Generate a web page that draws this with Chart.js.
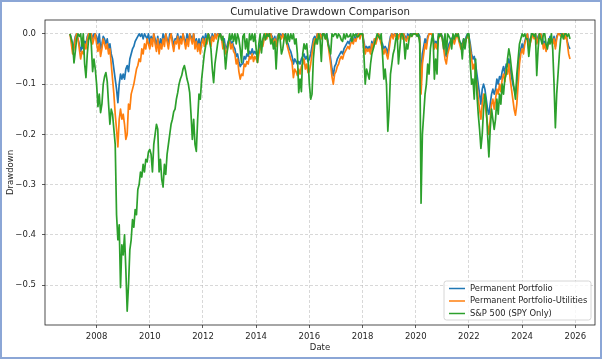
<!DOCTYPE html>
<html><head><meta charset="utf-8">
<script src="https://cdn.jsdelivr.net/npm/chart.js@4.4.1/dist/chart.umd.min.js"></script>
<style>html,body{margin:0;padding:0;background:#fff;}canvas{display:block;}</style>
</head><body>
<canvas id="c" width="602" height="359"></canvas>
<script>
const chartTitle = 'Cumulative Drawdown Comparison';
const xLabel = 'Date';
const yLabel = 'Drawdown';
const seriesNames = ['Permanent Portfolio', 'Permanent Portfolio-Utilities', 'S&P 500 (SPY Only)'];
const xTicks = [2008, 2010, 2012, 2014, 2016, 2018, 2020, 2022, 2024, 2026];
const yTicks = [0, -0.1, -0.2, -0.3, -0.4, -0.5];
// date axis: samples every 0.05 year starting 2007.0
const startYear = 2007.0;
const stepYears = 0.05;

const permanent = [
0,-0.01,-0.03,-0.02,-0.005,0,-0.01,-0.02,-0.035,-0.025,-0.03,-0.015,-0.02,-0.005,0,0,0,-0.01,0,0,
-0.005,-0.02,0,-0.03,-0.02,-0.005,-0.01,-0.02,-0.01,-0.03,-0.02,-0.04,-0.05,-0.07,-0.09,-0.11,-0.137,-0.10,-0.08,-0.09,
-0.08,-0.09,-0.07,-0.063,-0.075,-0.05,-0.04,-0.03,-0.025,-0.015,-0.01,-0.005,0,-0.005,0,-0.01,0,-0.005,-0.01,0,
-0.02,-0.005,-0.015,0,-0.01,-0.025,-0.005,-0.03,-0.01,-0.02,0,-0.015,0,-0.01,-0.02,0,0,-0.01,-0.025,-0.01,
-0.01,0,-0.02,-0.005,-0.01,0,-0.01,-0.02,0,-0.015,0,-0.005,-0.01,0,-0.02,-0.01,-0.025,-0.01,-0.03,-0.01,
-0.005,-0.015,0,-0.01,0,-0.005,-0.015,0,-0.01,0,-0.005,0,0,0,-0.005,-0.02,-0.01,-0.03,-0.025,-0.015,
-0.01,-0.02,-0.015,-0.025,-0.03,-0.045,-0.04,-0.055,-0.065,-0.06,-0.06,-0.045,-0.05,-0.04,-0.045,-0.035,-0.04,-0.03,-0.04,-0.035,
-0.04,-0.045,-0.03,-0.02,-0.015,-0.02,-0.005,0,-0.005,0,0,0,-0.005,-0.015,-0.005,-0.02,-0.005,0,0,-0.005,
0,-0.005,0,-0.015,-0.02,-0.03,-0.035,-0.045,-0.06,-0.05,-0.055,-0.06,-0.055,-0.06,-0.05,-0.045,-0.04,-0.05,-0.045,-0.055,
-0.05,-0.04,-0.025,-0.01,-0.005,-0.01,0,-0.005,0,-0.005,0,0,-0.005,0,-0.015,-0.03,-0.05,-0.07,-0.083,-0.065,
-0.06,-0.05,-0.045,-0.04,-0.035,-0.04,-0.03,-0.025,-0.02,-0.015,-0.02,-0.01,-0.01,-0.015,-0.005,-0.01,0,0,-0.005,0,
0,-0.015,-0.03,-0.025,-0.03,-0.025,-0.035,-0.015,-0.025,-0.01,-0.015,-0.005,0,-0.005,-0.015,-0.02,-0.03,-0.025,-0.03,-0.04,
-0.02,-0.005,0,-0.005,0,0,0,-0.005,0,0,-0.005,0,-0.005,-0.01,0,-0.005,0,0,0,0,
0,0,0,-0.005,-0.10,-0.04,-0.025,-0.01,-0.02,-0.005,0,0,0,-0.005,-0.02,-0.015,-0.02,-0.005,0,0,
-0.005,-0.02,-0.04,-0.045,-0.03,-0.02,-0.015,-0.01,-0.005,-0.015,-0.005,0,-0.005,-0.015,-0.02,-0.02,-0.01,-0.015,-0.005,0,
-0.005,-0.02,-0.04,-0.05,-0.045,-0.06,-0.08,-0.10,-0.12,-0.14,-0.11,-0.10,-0.11,-0.13,-0.15,-0.16,-0.14,-0.12,-0.11,-0.12,
-0.11,-0.09,-0.10,-0.085,-0.09,-0.075,-0.065,-0.08,-0.06,-0.065,-0.05,-0.07,-0.085,-0.10,-0.11,-0.12,-0.10,-0.07,-0.045,-0.03,
-0.02,-0.03,-0.015,-0.005,0,-0.02,-0.01,-0.005,0,-0.005,0,-0.015,-0.005,0,0,-0.005,-0.02,-0.015,-0.025,-0.02,
-0.015,-0.005,-0.01,-0.015,-0.005,-0.025,-0.005,0,0,0,0,0,-0.005,0,-0.015,-0.025,-0.03
];

const permanentUtilities = [
0,-0.02,-0.04,-0.03,-0.01,0,-0.01,-0.03,-0.05,-0.035,-0.04,-0.02,-0.03,-0.01,0,-0.01,0,-0.02,-0.01,0,
-0.02,-0.035,-0.02,-0.045,-0.03,-0.01,-0.02,-0.03,-0.02,-0.04,-0.03,-0.06,-0.09,-0.12,-0.16,-0.19,-0.225,-0.17,-0.15,-0.17,
-0.16,-0.18,-0.21,-0.20,-0.14,-0.15,-0.12,-0.11,-0.10,-0.085,-0.07,-0.063,-0.05,-0.055,-0.03,-0.04,-0.02,-0.03,-0.01,-0.02,
-0.03,-0.01,-0.025,0,-0.02,-0.035,-0.01,-0.04,-0.02,-0.03,-0.01,-0.025,0,-0.015,-0.03,-0.01,0,-0.02,-0.035,-0.015,
-0.02,-0.005,-0.03,-0.01,-0.02,0,-0.015,-0.03,-0.01,-0.025,0,-0.01,-0.02,0,-0.03,-0.015,-0.035,-0.02,-0.04,-0.02,
-0.01,-0.025,-0.01,-0.02,0,-0.01,-0.025,-0.005,-0.015,0,-0.01,0,-0.005,0,-0.01,-0.03,-0.02,-0.04,-0.035,-0.02,
-0.015,-0.03,-0.02,-0.035,-0.04,-0.06,-0.05,-0.075,-0.09,-0.08,-0.083,-0.06,-0.065,-0.055,-0.06,-0.045,-0.05,-0.04,-0.055,-0.045,
-0.05,-0.057,-0.04,-0.03,-0.02,-0.025,-0.01,0,-0.01,0,-0.005,0,-0.01,-0.02,-0.01,-0.025,-0.01,0,-0.005,-0.01,
0,-0.01,-0.005,-0.02,-0.03,-0.04,-0.05,-0.057,-0.087,-0.07,-0.075,-0.083,-0.07,-0.08,-0.065,-0.06,-0.05,-0.07,-0.06,-0.077,
-0.075,-0.06,-0.04,-0.02,-0.01,-0.02,0,-0.01,0,-0.01,0,0,-0.01,-0.005,-0.02,-0.04,-0.06,-0.085,-0.10,-0.08,
-0.075,-0.065,-0.06,-0.05,-0.045,-0.05,-0.04,-0.035,-0.03,-0.025,-0.03,-0.02,-0.015,-0.02,-0.01,-0.015,-0.005,0,-0.01,0,
0,-0.02,-0.04,-0.03,-0.035,-0.03,-0.04,-0.02,-0.03,-0.01,-0.02,-0.01,0,-0.01,-0.02,-0.03,-0.04,-0.03,-0.04,-0.05,
-0.03,-0.01,0,-0.01,0,-0.005,0,-0.01,0,0,-0.01,0,-0.01,-0.015,-0.005,-0.01,0,-0.005,0,0,
0,0,-0.005,-0.01,-0.12,-0.06,-0.04,-0.02,-0.03,-0.01,0,0,0,-0.01,-0.03,-0.02,-0.03,-0.01,-0.005,0,
-0.01,-0.03,-0.05,-0.06,-0.04,-0.03,-0.02,-0.015,-0.01,-0.02,-0.01,0,-0.01,-0.02,-0.03,-0.025,-0.015,-0.02,-0.01,-0.005,
-0.01,-0.03,-0.05,-0.07,-0.06,-0.08,-0.10,-0.13,-0.15,-0.17,-0.14,-0.12,-0.13,-0.16,-0.18,-0.20,-0.17,-0.14,-0.13,-0.15,
-0.13,-0.11,-0.12,-0.10,-0.115,-0.09,-0.08,-0.095,-0.07,-0.08,-0.06,-0.09,-0.11,-0.13,-0.15,-0.162,-0.14,-0.10,-0.06,-0.04,
-0.03,-0.04,-0.02,-0.01,0,-0.03,-0.02,-0.01,0,-0.01,0,-0.02,-0.01,0,0,-0.01,-0.03,-0.02,-0.035,-0.025,
-0.02,-0.01,-0.015,-0.02,-0.01,-0.03,-0.01,0,0,-0.005,0,0,-0.01,0,-0.02,-0.04,-0.05
];

const spy = [
0,-0.01,-0.02,-0.058,-0.035,-0.01,0,-0.005,0,-0.025,0,-0.06,-0.087,-0.04,-0.01,0,-0.02,-0.075,-0.05,-0.07,
-0.10,-0.145,-0.12,-0.157,-0.14,-0.10,-0.085,-0.077,-0.095,-0.14,-0.18,-0.15,-0.16,-0.19,-0.22,-0.36,-0.41,-0.38,-0.505,-0.42,
-0.44,-0.40,-0.47,-0.552,-0.50,-0.43,-0.41,-0.37,-0.385,-0.35,-0.36,-0.31,-0.30,-0.275,-0.285,-0.26,-0.275,-0.25,-0.255,-0.235,
-0.23,-0.24,-0.275,-0.22,-0.20,-0.18,-0.19,-0.275,-0.25,-0.29,-0.305,-0.26,-0.28,-0.24,-0.22,-0.20,-0.18,-0.17,-0.155,-0.15,
-0.13,-0.117,-0.10,-0.09,-0.083,-0.07,-0.063,-0.075,-0.09,-0.10,-0.117,-0.16,-0.21,-0.17,-0.22,-0.234,-0.17,-0.12,-0.13,-0.09,
-0.065,-0.04,-0.024,-0.01,0,-0.015,-0.03,-0.07,-0.097,-0.06,-0.04,-0.02,-0.005,0,-0.012,-0.005,-0.03,-0.07,-0.04,-0.02,
0,-0.012,0,-0.015,0,-0.02,0,-0.01,-0.03,-0.057,-0.005,0,-0.03,-0.01,-0.04,0,-0.012,0,-0.015,0,
-0.03,-0.057,-0.02,0,-0.038,-0.01,0,-0.012,0,-0.005,0,-0.02,-0.01,-0.03,-0.015,-0.07,-0.02,0,-0.01,-0.04,
-0.03,-0.01,0,-0.02,0,-0.015,0,-0.01,0,-0.02,-0.01,-0.04,-0.117,-0.09,-0.115,-0.04,-0.02,-0.03,-0.02,-0.05,
-0.10,-0.13,-0.12,-0.05,-0.02,-0.01,-0.02,0,-0.01,-0.055,0,0,-0.01,0,-0.02,-0.03,-0.04,0,-0.005,0,
0,-0.008,0,-0.004,-0.012,-0.015,0,-0.01,0,-0.006,-0.005,0,-0.015,0,-0.004,0,-0.006,-0.005,0,0,
0,-0.04,-0.10,-0.07,-0.08,-0.09,-0.06,-0.04,-0.03,-0.02,-0.01,0,-0.005,-0.01,0,-0.04,-0.09,-0.07,-0.10,-0.194,
-0.15,-0.08,-0.06,-0.04,-0.03,-0.01,0,-0.06,-0.03,0,0,-0.01,-0.05,-0.02,-0.03,-0.01,0,-0.005,0,0,
0,-0.005,0,-0.02,-0.337,-0.20,-0.16,-0.12,-0.10,-0.06,-0.08,-0.03,-0.01,0,-0.09,-0.05,-0.08,0,-0.005,0,
-0.01,-0.03,0,-0.04,0,-0.005,-0.01,-0.03,0,-0.01,0,-0.005,0,-0.015,-0.02,-0.05,-0.01,-0.03,-0.01,0,
0,-0.06,-0.10,-0.09,-0.13,-0.05,-0.12,-0.16,-0.19,-0.228,-0.20,-0.15,-0.12,-0.14,-0.20,-0.245,-0.19,-0.15,-0.17,-0.19,
-0.17,-0.13,-0.16,-0.12,-0.14,-0.10,-0.12,-0.09,-0.08,-0.05,-0.03,-0.045,-0.07,-0.09,-0.11,-0.13,-0.08,-0.05,-0.02,-0.01,
0,-0.005,0,-0.01,-0.01,-0.045,-0.02,0,0,-0.005,0,-0.083,-0.03,0,-0.01,-0.02,0,0,-0.02,-0.03,
-0.01,-0.02,0,-0.03,-0.10,-0.187,-0.12,-0.08,-0.04,-0.01,0,-0.01,0,0,-0.005,0,-0.01
];

const FONT = "'DejaVu Sans', 'Liberation Sans', sans-serif";
const TEXT = '#262626';
const colors = ['#1f77b4', '#ff7f0e', '#2ca02c'];
const dates = spy.map((_, i) => +(startYear + i * stepYears).toFixed(2));
const toPoints = arr => arr.map((v, i) => ({ x: dates[i], y: v }));

const overlay = {
  id: 'overlay',
  afterDatasetsDraw(chart) {
    const { ctx, chartArea: a } = chart;
    ctx.save();
    ctx.strokeStyle = '#222';
    ctx.lineWidth = 0.8;
    ctx.strokeRect(a.left, a.top, a.right - a.left, a.bottom - a.top);
    ctx.restore();
  },
  afterDraw(chart) {
    const { ctx, chartArea: a } = chart;
    const cx = (a.left + a.right) / 2;
    ctx.save();
    ctx.fillStyle = TEXT;
    ctx.textAlign = 'center';
    ctx.textBaseline = 'middle';
    ctx.font = '10.2px ' + FONT;
    ctx.fillText(chartTitle, cx, 12);
    ctx.font = '8.5px ' + FONT;
    ctx.fillText(xLabel, cx, 348);
    ctx.save();
    ctx.translate(11, (a.top + a.bottom) / 2);
    ctx.rotate(-Math.PI / 2);
    ctx.fillText(yLabel, 0, 0);
    ctx.restore();

    // legend (lower right)
    const lx0 = 444, lx1 = a.right - 4, ly0 = 281, ly1 = a.bottom - 5, r = 2.5;
    ctx.beginPath();
    ctx.moveTo(lx0 + r, ly0);
    ctx.lineTo(lx1 - r, ly0); ctx.quadraticCurveTo(lx1, ly0, lx1, ly0 + r);
    ctx.lineTo(lx1, ly1 - r); ctx.quadraticCurveTo(lx1, ly1, lx1 - r, ly1);
    ctx.lineTo(lx0 + r, ly1); ctx.quadraticCurveTo(lx0, ly1, lx0, ly1 - r);
    ctx.lineTo(lx0, ly0 + r); ctx.quadraticCurveTo(lx0, ly0, lx0 + r, ly0);
    ctx.closePath();
    ctx.fillStyle = 'rgba(255,255,255,0.8)';
    ctx.fill();
    ctx.strokeStyle = '#cccccc';
    ctx.lineWidth = 0.8;
    ctx.stroke();
    const rows = [288.5, 301, 313.5];
    ctx.textAlign = 'left';
    ctx.font = '8.4px ' + FONT;
    seriesNames.forEach((name, i) => {
      ctx.strokeStyle = colors[i];
      ctx.lineWidth = 1.5;
      ctx.beginPath();
      ctx.moveTo(449, rows[i]);
      ctx.lineTo(465, rows[i]);
      ctx.stroke();
      ctx.fillStyle = TEXT;
      ctx.fillText(name, 470, rows[i]);
    });

    // outer frame of the picture
    ctx.strokeStyle = '#8ba6d6';
    ctx.lineWidth = 2;
    ctx.strokeRect(1, 1, chart.width - 2, chart.height - 2);
    ctx.restore();
  }
};

new Chart(document.getElementById('c').getContext('2d'), {
  type: 'line',
  data: {
    datasets: [
      { label: seriesNames[0], data: toPoints(permanent), borderColor: colors[0], order: 3 },
      { label: seriesNames[1], data: toPoints(permanentUtilities), borderColor: colors[1], order: 2 },
      { label: seriesNames[2], data: toPoints(spy), borderColor: colors[2], order: 1 }
    ]
  },
  options: {
    responsive: false,
    animation: false,
    devicePixelRatio: 1,
    elements: { point: { radius: 0 }, line: { borderWidth: 1.7, tension: 0, fill: false, borderJoinStyle: 'round' } },
    layout: { padding: { left: 0, right: 7, top: 20, bottom: 0 } },
    plugins: { legend: { display: false }, title: { display: false }, tooltip: { enabled: false } },
    scales: {
      x: {
        type: 'linear', bounds: 'data', min: 2006.06, max: 2026.74,
        afterBuildTicks: s => { s.ticks = xTicks.map(v => ({ value: v })); },
        afterFit: s => { s.height = 34; },
        ticks: { font: { family: FONT, size: 8.5 }, color: TEXT, padding: 4, maxRotation: 0, autoSkip: false,
                 callback: v => String(v) },
        grid: { color: 'rgba(176,176,176,0.7)', lineWidth: 0.7, tickColor: '#333', tickLength: 3, tickWidth: 0.8 },
        border: { display: false, dash: [3, 2] }
      },
      y: {
        type: 'linear', bounds: 'data', min: -0.5796, max: 0.0276,
        afterBuildTicks: s => { s.ticks = yTicks.map(v => ({ value: v })); },
        afterFit: s => { s.width = 45; },
        ticks: { font: { family: FONT, size: 8.5 }, color: TEXT, padding: 6, autoSkip: false,
                 callback: v => (v < 0 ? '\u2212' : '') + Math.abs(v).toFixed(1) },
        grid: { color: 'rgba(176,176,176,0.7)', lineWidth: 0.7, tickColor: '#333', tickLength: 3, tickWidth: 0.8 },
        border: { display: false, dash: [3, 2] }
      }
    }
  },
  plugins: [overlay]
});
</script>
</body></html>
